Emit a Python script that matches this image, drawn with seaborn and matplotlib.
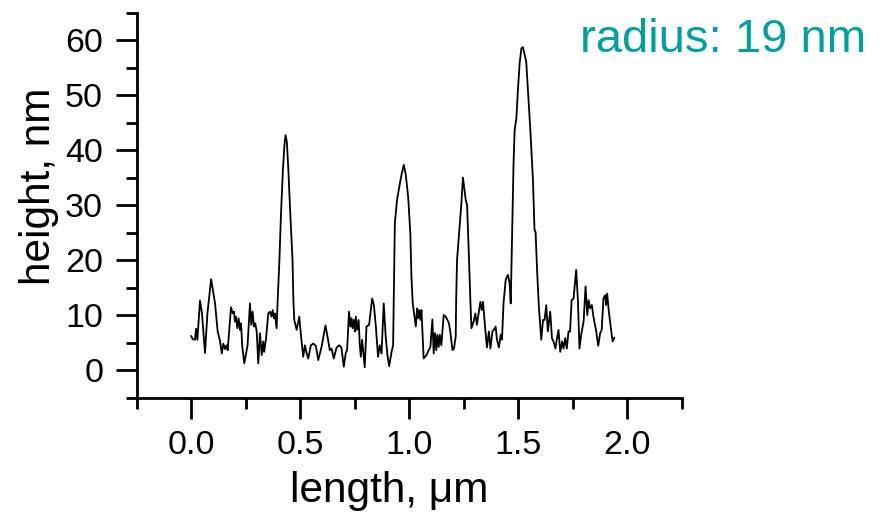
import numpy as np
import pandas as pd
import matplotlib
matplotlib.use("Agg")
import matplotlib.pyplot as plt
import seaborn as sns
from matplotlib.ticker import MultipleLocator, FormatStrFormatter

length_um = [
    0.000, 0.008, 0.018, 0.023, 0.029, 0.041, 0.050, 0.064, 0.075, 0.092,
    0.110, 0.122, 0.133, 0.141, 0.148, 0.156, 0.163, 0.168, 0.183, 0.191,
    0.197, 0.201, 0.206, 0.212, 0.218, 0.224, 0.229, 0.235, 0.244, 0.259,
    0.270, 0.276, 0.282, 0.288, 0.294, 0.301, 0.308, 0.316, 0.324, 0.331,
    0.335, 0.343, 0.354, 0.362, 0.369, 0.374, 0.380, 0.384, 0.392, 0.397,
    0.405, 0.412, 0.421, 0.428, 0.433, 0.439, 0.446, 0.455, 0.465, 0.469,
    0.473, 0.484, 0.496, 0.502, 0.514, 0.522, 0.530, 0.537, 0.549, 0.560,
    0.572, 0.583, 0.598, 0.616, 0.628, 0.636, 0.644, 0.654, 0.667, 0.679,
    0.689, 0.700, 0.709, 0.715, 0.724, 0.731, 0.735, 0.740, 0.746, 0.751,
    0.755, 0.761, 0.768, 0.773, 0.778, 0.784, 0.796, 0.804, 0.816, 0.830,
    0.838, 0.847, 0.857, 0.865, 0.873, 0.883, 0.892, 0.900, 0.908, 0.919,
    0.926, 0.929, 0.934, 0.944, 0.957, 0.966, 0.975, 0.984, 0.995, 1.005,
    1.010, 1.016, 1.030, 1.036, 1.040, 1.045, 1.051, 1.056, 1.066, 1.079,
    1.089, 1.097, 1.106, 1.112, 1.118, 1.124, 1.129, 1.135, 1.140, 1.147,
    1.158, 1.167, 1.175, 1.182, 1.189, 1.198, 1.205, 1.213, 1.215, 1.219,
    1.231, 1.239, 1.246, 1.259, 1.265, 1.274, 1.280, 1.285, 1.295, 1.303,
    1.310, 1.326, 1.332, 1.338, 1.346, 1.356, 1.365, 1.372, 1.381, 1.388,
    1.396, 1.402, 1.411, 1.419, 1.425, 1.432, 1.442, 1.452, 1.460, 1.465,
    1.472, 1.478, 1.483, 1.491, 1.498, 1.506, 1.514, 1.521, 1.529, 1.536,
    1.544, 1.555, 1.567, 1.574, 1.579, 1.586, 1.594, 1.605, 1.613, 1.620,
    1.628, 1.635, 1.646, 1.654, 1.661, 1.670, 1.676, 1.684, 1.692, 1.701,
    1.707, 1.715, 1.722, 1.730, 1.737, 1.744, 1.753, 1.765, 1.773, 1.780,
    1.788, 1.799, 1.808, 1.816, 1.822, 1.829, 1.837, 1.844, 1.857, 1.866,
    1.875, 1.882, 1.890, 1.898, 1.902, 1.907, 1.914, 1.925, 1.932, 1.940,
]
height_nm = [
    6.2, 5.6, 5.5, 7.5, 5.5, 12.6, 10.3, 3.1, 10.3, 16.5,
    12.1, 7.0, 5.2, 3.0, 4.8, 3.8, 4.5, 3.6, 11.4, 10.3,
    10.6, 8.8, 9.7, 7.6, 9.4, 7.3, 8.5, 4.2, 1.2, 4.5,
    12.1, 8.2, 10.6, 7.9, 8.5, 7.0, 1.2, 6.7, 2.7, 5.2,
    3.3, 5.5, 10.3, 10.6, 9.7, 10.9, 9.4, 10.3, 7.6, 12.7,
    20.0, 28.2, 36.4, 40.9, 42.7, 41.5, 36.4, 28.2, 20.0, 12.7,
    9.1, 7.3, 9.7, 7.0, 2.4, 4.5, 3.0, 2.1, 4.5, 4.8,
    4.4, 1.8, 4.2, 8.1, 5.5, 3.6, 3.9, 2.1, 4.1, 4.5,
    4.1, 0.6, 3.1, 3.6, 10.6, 7.9, 9.4, 7.6, 9.1, 7.0,
    9.7, 7.3, 9.1, 4.8, 2.4, 5.5, 0.5, 7.9, 8.2, 13.0,
    11.8, 7.9, 2.4, 4.5, 3.0, 12.1, 6.1, 2.7, 0.7, 3.3,
    4.5, 12.7, 26.7, 30.9, 33.9, 35.8, 37.3, 35.5, 31.5, 24.8,
    17.0, 12.1, 7.9, 11.2, 9.4, 10.9, 9.1, 10.9, 2.1, 2.7,
    3.6, 4.2, 9.2, 3.0, 6.7, 3.6, 6.4, 4.2, 6.4, 4.5,
    10.0, 9.7, 9.1, 8.5, 6.7, 3.6, 3.9, 6.1, 12.7, 20.0,
    26.1, 30.3, 35.0, 30.9, 30.0, 20.0, 12.7, 7.6, 8.8, 10.3,
    8.2, 12.4, 10.9, 12.4, 8.5, 4.1, 7.0, 3.9, 7.0, 7.3,
    7.9, 5.5, 4.1, 6.4, 5.5, 12.1, 16.4, 17.3, 15.8, 12.1,
    25.5, 37.6, 43.6, 45.8, 50.9, 55.8, 58.5, 58.7, 57.3, 56.1,
    50.9, 43.6, 34.5, 25.5, 25.1, 18.0, 11.5, 5.5, 9.1, 9.1,
    11.8, 7.0, 10.6, 5.8, 5.2, 3.9, 5.5, 7.3, 3.3, 5.2,
    3.9, 5.8, 3.9, 7.0, 7.0, 12.7, 13.0, 18.2, 12.7, 3.9,
    6.4, 8.8, 15.2, 10.0, 12.7, 11.2, 11.8, 9.7, 7.0, 4.4,
    6.7, 7.3, 13.0, 13.6, 11.8, 13.9, 10.9, 7.3, 5.2, 5.9,
]
x_ticks = [0.0, 0.5, 1.0, 1.5, 2.0]
y_ticks = [0, 10, 20, 30, 40, 50, 60]
x_label = "length, μm"
y_label = "height, nm"
annotation = "radius: 19 nm"

df = pd.DataFrame({"length": length_um, "height": height_nm})

sns.set_style("ticks")
plt.rcParams["font.family"] = ["Liberation Sans", "DejaVu Sans"]
plt.rcParams.update({
    "text.color": "black",
    "axes.labelcolor": "black",
    "xtick.color": "black",
    "ytick.color": "black",
    "axes.edgecolor": "black",
})

W, H = 884, 513
fig = plt.figure(figsize=(W / 100, H / 100), dpi=100)
ax = fig.add_axes([136.5 / W, 1 - 397.5 / H, 545.5 / W, 385 / H])

sns.lineplot(data=df, x="length", y="height", sort=False, estimator=None,
             color="black", linewidth=1.3, ax=ax)

ax.set_xlim(-0.25, 2.25)
ax.set_ylim(-5, 65)
ax.set_xticks(x_ticks)
ax.set_yticks(y_ticks)
ax.xaxis.set_major_formatter(FormatStrFormatter("%.1f"))
ax.xaxis.set_minor_locator(MultipleLocator(0.25))
ax.yaxis.set_minor_locator(MultipleLocator(5))

for side in ["top", "right"]:
    ax.spines[side].set_visible(False)
for side in ["left", "bottom"]:
    ax.spines[side].set_linewidth(2.0)
    ax.spines[side].set_color("black")

ax.tick_params(which="major", direction="out", length=15, width=2.0,
               labelsize=24.5, color="black", labelcolor="black", pad=9)
ax.tick_params(which="minor", direction="out", length=8, width=2.0,
               color="black")
ax.tick_params(axis="x", which="major", pad=8.5)

ax.set_xlabel(x_label, fontsize=30.5, color="black")
ax.set_ylabel(y_label, fontsize=30.5, color="black")
ax.xaxis.set_label_coords((389 - 136.5) / 545.5, -0.19)
ax.yaxis.set_label_coords(-0.142, (397.5 - 186) / 385)

fig.text(866 / W, 1 - 52 / H, annotation, ha="right", va="baseline",
         fontsize=34, color="#00a09c")

fig.savefig("out.png", dpi=100)
